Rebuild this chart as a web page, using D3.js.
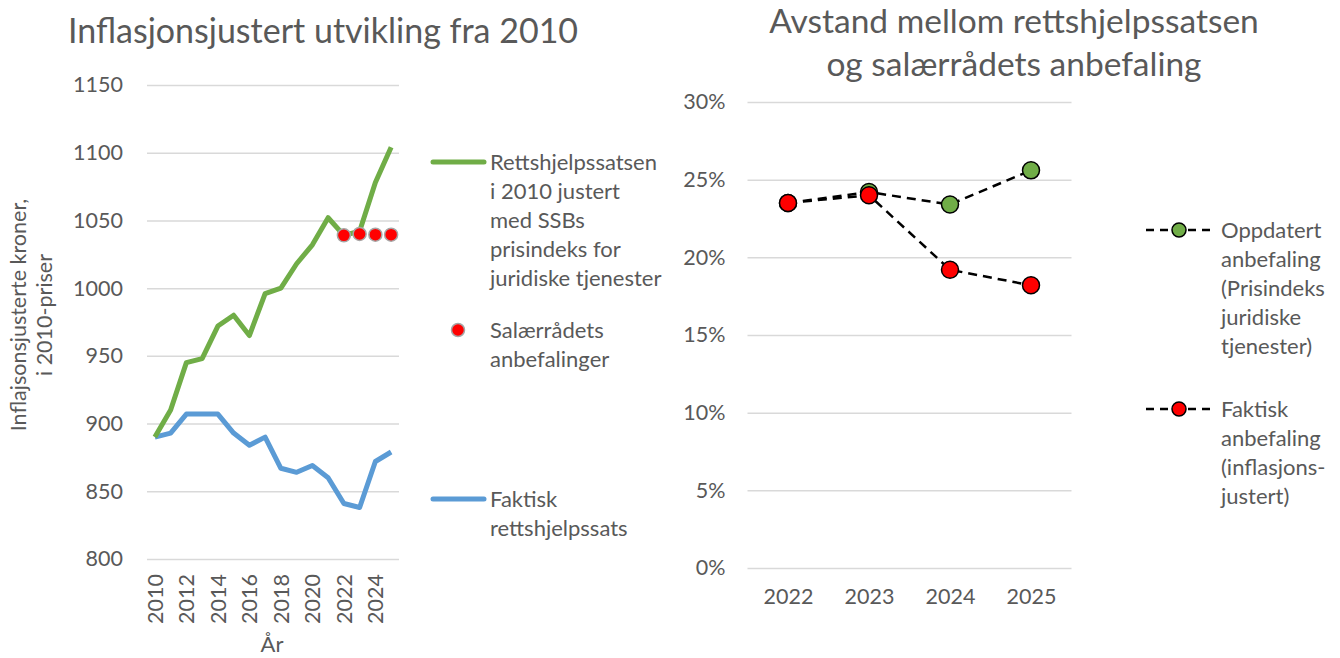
<!DOCTYPE html>
<meta charset="utf-8">
<style>
  body { margin: 0; background: #fff; }
  svg text { font-family: Lato, "Open Sans", sans-serif; fill: #595959; }
  .grid line { stroke: #d9d9d9; stroke-width: 1.5; }
  .grid .domain { display: none; }
</style>
<body>
<script src="https://d3js.org/d3.v7.min.js"></script>
<script>
// venstre figur: kroner i 2010-priser
var years = [2010, 2011, 2012, 2013, 2014, 2015, 2016, 2017, 2018, 2019, 2020, 2021, 2022, 2023, 2024, 2025];
var justert = [890, 910, 945, 948, 972, 980, 965, 996, 1000, 1018, 1032, 1052, 1039, 1042, 1078, 1104];
var faktisk = [890, 893, 907, 907, 907, 893, 884, 890, 867, 864, 869, 860, 841, 838, 872, 879];
var salYears = [2022, 2023, 2024, 2025];
var salaer = [1039, 1040, 1039.5, 1039.5];
var leftTicks = [800, 850, 900, 950, 1000, 1050, 1100, 1150];
var xTickYears = [2010, 2012, 2014, 2016, 2018, 2020, 2022, 2024];

// høyre figur: avstand i prosent
var years2 = [2022, 2023, 2024, 2025];
var oppdatert = [0.235, 0.242, 0.234, 0.256];
var faktiskAnb = [0.235, 0.240, 0.192, 0.182];
var pctTicks = [0, 0.05, 0.10, 0.15, 0.20, 0.25, 0.30];

var green = "#70ad47", blue = "#5b9bd5", red = "#ff0000";
var tickSize = 21.5, legSize = 22;

var svg = d3.select("body").append("svg")
    .attr("width", 1340)
    .attr("height", 658);

// ---------- left chart ----------
var x1 = d3.scalePoint().domain(years).range([147, 399]).padding(0.5);
var y1 = d3.scaleLinear().domain([800, 1150]).range([559, 85]);

svg.append("text")
    .attr("x", 68).attr("y", 43)
    .style("font-size", "34px")
    .text("Inflasjonsjustert utvikling fra 2010");

var g1 = svg.append("g").attr("class", "grid")
    .attr("transform", "translate(147,0)")
    .call(d3.axisLeft(y1).tickValues(leftTicks).tickSize(-252).tickPadding(24).tickFormat(d3.format("d")));
g1.selectAll("text").style("font-size", tickSize + "px").attr("fill", "#595959");

var xa1 = svg.append("g")
    .attr("transform", "translate(0,559)")
    .call(d3.axisBottom(x1).tickValues(xTickYears).tickSize(0).tickFormat(d3.format("d")));
xa1.select(".domain").remove();
xa1.selectAll("text")
    .style("font-size", tickSize + "px")
    .attr("fill", "#595959")
    .attr("transform", "rotate(-90)")
    .attr("text-anchor", "end")
    .attr("x", -15).attr("y", 0).attr("dy", "0.35em");

svg.append("text")
    .attr("x", 272).attr("y", 652)
    .attr("text-anchor", "middle")
    .style("font-size", "22px")
    .text("År");

var ylab = svg.append("text")
    .attr("transform", "translate(26,315) rotate(-90)")
    .attr("text-anchor", "middle")
    .style("font-size", "21.5px");
ylab.append("tspan").attr("x", 0).attr("dy", 0).text("Inflajsonsjusterte kroner,");
ylab.append("tspan").attr("x", 0).attr("dy", 26).text("i 2010-priser");

var line1 = d3.line().x(function(d, i) { return x1(years[i]); }).y(function(d) { return y1(d); });

svg.append("path").datum(faktisk)
    .attr("fill", "none").attr("stroke", blue).attr("stroke-width", 5)
    .attr("stroke-linejoin", "round").attr("d", line1);
svg.append("path").datum(justert)
    .attr("fill", "none").attr("stroke", green).attr("stroke-width", 5)
    .attr("stroke-linejoin", "round").attr("d", line1);

svg.selectAll(".sal").data(salaer).enter().append("circle")
    .attr("cx", function(d, i) { return x1(salYears[i]); })
    .attr("cy", function(d) { return y1(d); })
    .attr("r", 6.5)
    .attr("fill", red).attr("stroke", "#a6a6a6").attr("stroke-width", 1.5);

// legend left
function textBlock(x, y, lines, size, gap) {
  var t = svg.append("text").attr("x", x).attr("y", y).style("font-size", size + "px");
  lines.forEach(function(l, i) {
    t.append("tspan").attr("x", x).attr("dy", i == 0 ? "0.35em" : gap).text(l);
  });
}
svg.append("line").attr("x1", 433).attr("x2", 484).attr("y1", 162).attr("y2", 162)
    .attr("stroke", green).attr("stroke-width", 5).attr("stroke-linecap", "round");
textBlock(490, 162, ["Rettshjelpssatsen", "i 2010 justert", "med SSBs", "prisindeks for", "juridiske tjenester"], legSize, 29);
svg.append("circle").attr("cx", 458).attr("cy", 330).attr("r", 6.5)
    .attr("fill", red).attr("stroke", "#a6a6a6").attr("stroke-width", 1.5);
textBlock(490, 330, ["Salærrådets", "anbefalinger"], legSize, 29);
svg.append("line").attr("x1", 433).attr("x2", 484).attr("y1", 499).attr("y2", 499)
    .attr("stroke", blue).attr("stroke-width", 5).attr("stroke-linecap", "round");
textBlock(490, 499, ["Faktisk", "rettshjelpssats"], legSize, 29);

// ---------- right chart ----------
var x2 = d3.scalePoint().domain(years2).range([747.5, 1071.5]).padding(0.5);
var y2 = d3.scaleLinear().domain([0, 0.30]).range([568, 102]);

var tt = svg.append("text").attr("text-anchor", "middle").style("font-size", "33.5px");
tt.append("tspan").attr("x", 1014).attr("y", 33).text("Avstand mellom rettshjelpssatsen");
tt.append("tspan").attr("x", 1014).attr("y", 76).text("og salærrådets anbefaling");

var g2 = svg.append("g").attr("class", "grid")
    .attr("transform", "translate(747.5,0)")
    .call(d3.axisLeft(y2).tickValues(pctTicks).tickSize(-324).tickPadding(22).tickFormat(d3.format(".0%")));
g2.selectAll("text").style("font-size", tickSize + "px").attr("fill", "#595959");

var xa2 = svg.append("g")
    .attr("transform", "translate(0,568)")
    .call(d3.axisBottom(x2).tickSize(0).tickPadding(21).tickFormat(d3.format("d")));
xa2.select(".domain").remove();
xa2.selectAll("text").style("font-size", tickSize + "px").attr("fill", "#595959");

var line2 = d3.line().x(function(d, i) { return x2(years2[i]); }).y(function(d) { return y2(d); });

[[oppdatert, green], [faktiskAnb, red]].forEach(function(s) {
  svg.append("path").datum(s[0])
      .attr("fill", "none").attr("stroke", "#000").attr("stroke-width", 2.5)
      .attr("stroke-dasharray", "9,6").attr("d", line2);
});
[[oppdatert, green], [faktiskAnb, red]].forEach(function(s) {
  svg.append("g").selectAll("circle").data(s[0]).enter().append("circle")
      .attr("cx", function(d, i) { return x2(years2[i]); })
      .attr("cy", function(d) { return y2(d); })
      .attr("r", 8.5)
      .attr("fill", s[1]).attr("stroke", "#000").attr("stroke-width", 1.5);
});

// legend right
[[230, green], [409, red]].forEach(function(l) {
  svg.append("line").attr("x1", 1146).attr("x2", 1211).attr("y1", l[0]).attr("y2", l[0])
      .attr("stroke", "#000").attr("stroke-width", 2.5).attr("stroke-dasharray", "8,6");
  svg.append("circle").attr("cx", 1179).attr("cy", l[0]).attr("r", 7)
      .attr("fill", l[1]).attr("stroke", "#000").attr("stroke-width", 1.5);
});
textBlock(1221, 230, ["Oppdatert", "anbefaling", "(Prisindeks", "juridiske", "tjenester)"], legSize, 29);
textBlock(1221, 409, ["Faktisk", "anbefaling", "(inflasjons-", "justert)"], legSize, 29);
</script>
</body>
